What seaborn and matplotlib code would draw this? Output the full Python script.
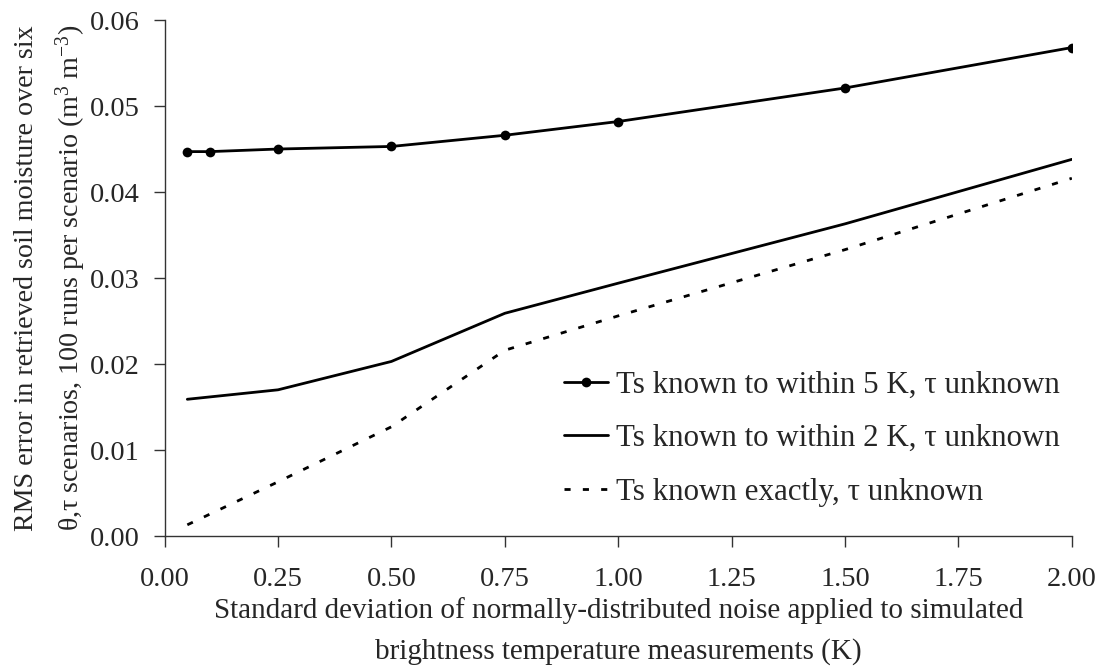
import numpy as np
import pandas as pd
import matplotlib
matplotlib.use("Agg")
import matplotlib.pyplot as plt
import seaborn as sns

# --- data ---
noise_5k = [0.05, 0.10, 0.25, 0.50, 0.75, 1.00, 1.50, 2.00]
rms_5k = [0.0447, 0.0447, 0.0450, 0.0453, 0.0466, 0.0482, 0.0521, 0.0568]

noise_other = [0.05, 0.25, 0.50, 0.75, 1.00, 1.50, 2.00]
rms_2k = [0.0159, 0.0170, 0.0203, 0.0259, 0.0294, 0.0363, 0.0438]
rms_exact = [0.0013, 0.0063, 0.0127, 0.0216, 0.0256, 0.0333, 0.0416]

labels = ["Ts known to within 5 K, \u03c4 unknown",
          "Ts known to within 2 K, \u03c4 unknown",
          "Ts known exactly, \u03c4 unknown"]
x_ticks = [0.00, 0.25, 0.50, 0.75, 1.00, 1.25, 1.50, 1.75, 2.00]
y_ticks = [0.00, 0.01, 0.02, 0.03, 0.04, 0.05, 0.06]

sns.set_style("white")
plt.rcParams['font.family'] = ['Liberation Serif', 'DejaVu Serif']
plt.rcParams['mathtext.fontset'] = 'custom'
plt.rcParams['mathtext.rm'] = 'Liberation Serif'

fig = plt.figure(figsize=(11.05, 6.68), dpi=100)
ax = fig.add_axes([0.149, 0.1976, 0.821, 0.7724])

sns.lineplot(x=noise_5k, y=rms_5k, ax=ax, color='black', linewidth=2,
             marker='o', markersize=7, markeredgewidth=0, label=labels[0])
sns.lineplot(x=noise_other, y=rms_2k, ax=ax, color='black', linewidth=2,
             label=labels[1])
sns.lineplot(x=noise_other, y=rms_exact, ax=ax, color='black', linewidth=2,
             linestyle=(0, (2.2, 4.4)), label=labels[2])

ax.set_xlim(0, 2.0)
ax.set_ylim(0, 0.06)
ax.set_xticks(x_ticks)
ax.set_xticklabels([f"{v:.2f}" for v in x_ticks])
ax.set_yticks(y_ticks)
ax.set_yticklabels([f"{v:.2f}" for v in y_ticks])
ax.tick_params(axis='both', labelsize=20.5, direction='out', length=8,
               width=1, color='#333333', left=True, bottom=True)
ax.tick_params(axis='x', pad=14)
ax.tick_params(axis='y', pad=10)

for s in ['top', 'right']:
    ax.spines[s].set_visible(False)
for s in ['left', 'bottom']:
    ax.spines[s].set_color('#333333')
    ax.spines[s].set_linewidth(1)

ax.set_xlabel("Standard deviation of normally-distributed noise applied to simulated\n"
              "brightness temperature measurements (K)", fontsize=21, labelpad=4,
              linespacing=1.7)
ax.set_ylabel("RMS error in retrieved soil moisture over six\n"
              "\u03b8,\u03c4 scenarios, 100 runs per scenario (m$\\mathregular{^3}$ m$\\mathregular{^{-3}}$)",
              fontsize=20.2, labelpad=1, linespacing=1.6)

ax.legend(loc='lower right', bbox_to_anchor=(1.017, 0.002), frameon=False,
          fontsize=22.3, handlelength=1.4, handletextpad=0.25, labelspacing=0.8)

fig.savefig("out.png", dpi=100)
